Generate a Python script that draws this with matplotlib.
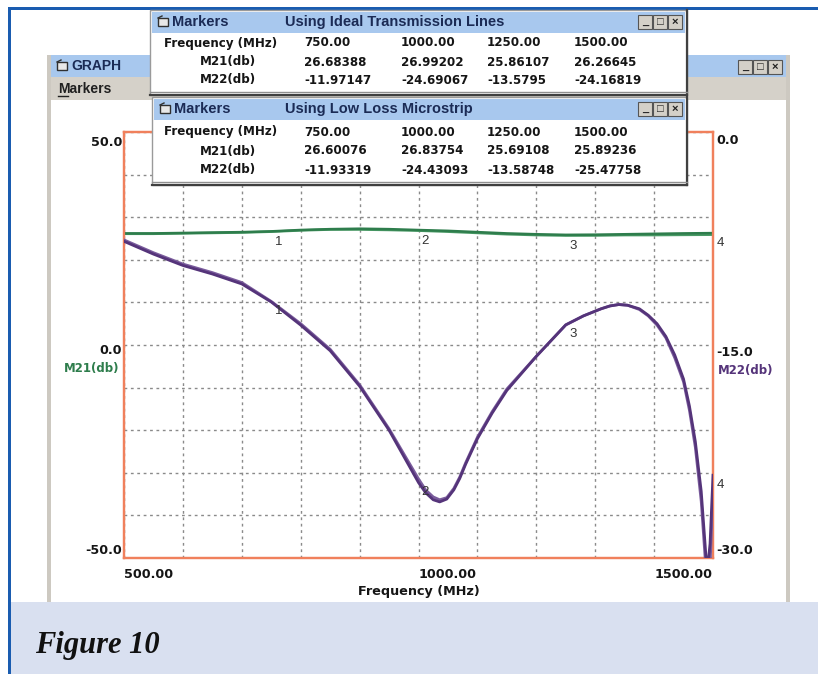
import matplotlib
matplotlib.use('Agg')
import matplotlib.pyplot as plt
from matplotlib.patches import Rectangle
import numpy as np

W, H, DPI = 818, 674, 100

# ---------------- data ----------------
freq_m21 = [500, 550, 600, 650, 700, 750, 800, 850, 900, 950, 1000, 1050, 1100,
            1150, 1200, 1250, 1300, 1350, 1400, 1450, 1500]
m21_ideal = [26.2, 26.2, 26.3, 26.4, 26.5, 26.68, 27.0, 27.2, 27.3, 27.2, 26.99, 26.8,
             26.5, 26.2, 26.0, 25.86, 25.9, 26.0, 26.1, 26.2, 26.27]
m21_micro = [26.1, 26.1, 26.2, 26.3, 26.4, 26.60, 26.9, 27.1, 27.1, 27.0, 26.84, 26.6,
             26.3, 26.0, 25.8, 25.69, 25.7, 25.8, 25.8, 25.85, 25.89]

freq_m22 = [500, 550, 600, 650, 700, 750, 800, 850, 900, 950, 1000, 1012, 1025, 1036,
            1048, 1060, 1070, 1080, 1100, 1125, 1150, 1200, 1250, 1280, 1310, 1325,
            1340, 1355, 1375, 1390, 1405, 1420, 1435, 1450, 1460, 1470, 1480, 1490,
            1495, 1500]
m22_ideal = [-7.7, -8.6, -9.4, -10.0, -10.7, -11.97, -13.6, -15.4, -17.9, -21.0, -24.69,
             -25.4, -25.9, -26.05, -25.85, -25.2, -24.4, -23.4, -21.6, -19.8, -18.2, -15.8,
             -13.58, -12.95, -12.45, -12.25, -12.15, -12.2, -12.45, -12.9, -13.5, -14.4,
             -15.7, -17.4, -19.3, -21.8, -25.3, -31.0, -29.0, -24.17]
m22_micro = [-7.6, -8.5, -9.3, -9.9, -10.6, -11.93, -13.5, -15.3, -17.8, -20.9, -24.43,
             -25.2, -25.7, -25.9, -25.75, -25.1, -24.3, -23.3, -21.5, -19.7, -18.1, -15.8,
             -13.59, -12.95, -12.45, -12.25, -12.15, -12.2, -12.5, -12.95, -13.6, -14.5,
             -15.9, -17.6, -19.6, -22.2, -26.0, -32.0, -30.5, -25.48]

marker_freqs = [750.00, 1000.00, 1250.00, 1500.00]
marker_ids = ['1', '2', '3', '4']
ideal_m21 = [26.68388, 26.99202, 25.86107, 26.26645]
ideal_m22 = [-11.97147, -24.69067, -13.5795, -24.16819]
micro_m21 = [26.60076, 26.83754, 25.69108, 25.89236]
micro_m22 = [-11.93319, -24.43093, -13.58748, -25.47758]

x_ticks = [500, 1000, 1500]
x_tick_labels = ['500.00', '1000.00', '1500.00']
left_ticks = [50, 0, -50]
left_tick_labels = ['50.0', '0.0', '-50.0']
right_ticks = [0, -15, -30]
right_tick_labels = ['0.0', '-15.0', '-30.0']

# ---------------- style ----------------
BLUE = '#1a5cb0'
CAPTION = '#d9e0f0'
TITLEBAR = '#a8c8ee'
MENU = '#d5d1c9'
WINGREY = '#cdc9c1'
ORANGE = '#f0805c'
GREEN = '#2e7d4c'
GREEN2 = '#4a9a66'
PURPLE = '#55347a'
PURPLE2 = '#7a5c9c'
NAVY = '#1b2b55'
TXT = '#151515'
SANS = ['Liberation Sans', 'DejaVu Sans']
BOLDSANS = ['DejaVu Sans']

fig = plt.figure(figsize=(W / DPI, H / DPI), dpi=DPI)
fig.patch.set_facecolor('white')

# background (pixel coordinates)
bg = fig.add_axes([0, 0, 1, 1], zorder=0)
bg.set_xlim(0, W)
bg.set_ylim(H, 0)
bg.axis('off')

def rect(a, x, y, w, h, fc, ec='none', lw=0, z=1):
    a.add_patch(Rectangle((x, y), w, h, facecolor=fc, edgecolor=ec, linewidth=lw, zorder=z))

rect(bg, 8, 7, W - 8, 3, BLUE)
rect(bg, 8, 7, 3, H - 7, BLUE)
# graph window
rect(bg, 47, 55, 743, 547, 'white')
rect(bg, 47, 55, 4, 547, WINGREY)
rect(bg, 786, 55, 4, 547, WINGREY)
rect(bg, 51, 55, 735, 22, TITLEBAR)
rect(bg, 51, 77, 735, 23, MENU)

def folder_icon(a, x, y, z=3):
    a.add_patch(Rectangle((x, y - 4), 10, 8, facecolor='#e8e8e8', edgecolor='#303030', linewidth=1.0, zorder=z))
    a.plot([x, x + 4], [y - 4, y - 6], color='#303030', lw=1.0, zorder=z)

def buttons(a, xr, yc, z=3):
    for i, sym in enumerate(['_', '\u25A1', '\u00D7']):
        bx = xr - 15 * (3 - i)
        a.add_patch(Rectangle((bx, yc - 7), 14, 14, facecolor='#d4d0c8', edgecolor='#555555',
                              linewidth=0.8, zorder=z))
        a.text(bx + 7, yc, sym, ha='center', va='center', fontsize=8, fontweight='bold',
               color='#202020', zorder=z + 1, family=SANS)

folder_icon(bg, 57, 66)
bg.text(71, 66, 'GRAPH', ha='left', va='center', fontsize=10, fontweight='bold', color=NAVY, family=SANS)
buttons(bg, 783, 67)
bg.text(58, 89, 'Markers', ha='left', va='center', fontsize=10, fontweight='bold', color='#202020', family=SANS)
bg.plot([58, 68], [96, 96], color='#202020', lw=1)

# caption band
rect(bg, 11, 602, W - 11, H - 602, CAPTION, z=2)
bg.text(35, 653, 'Figure 10', ha='left', va='baseline', fontsize=22, fontweight='bold',
        style='italic', family=['Liberation Serif', 'DejaVu Serif'], color='#111111', zorder=3)

# ---------------- plot ----------------
L, R, T, B = 124, 713, 132, 558
ax = fig.add_axes([L / W, (H - B) / H, (R - L) / W, (B - T) / H], zorder=2)
ax.set_facecolor('white')
ax.set_xlim(500, 1500)
ax.set_ylim(-50, 50)
ax.set_xticks(np.arange(500, 1501, 100))
ax.set_yticks(np.linspace(-50, 50, 11))
ax.tick_params(length=0, labelbottom=False, labelleft=False)
ax.grid(True, color='#8a8a8a', linestyle=(0, (2, 2.6)), linewidth=1.0)
for s in ax.spines.values():
    s.set_color(ORANGE)
    s.set_linewidth(1.6)

ax.plot(freq_m21, m21_micro, color=GREEN2, lw=1.8, zorder=3)
ax.plot(freq_m21, m21_ideal, color=GREEN, lw=1.8, zorder=3)

ax2 = ax.twinx()
ax2.set_zorder(3)
ax2.patch.set_visible(False)
ax2.set_ylim(-30, 0)
ax2.set_yticks([])
for s in ax2.spines.values():
    s.set_color(ORANGE)
    s.set_linewidth(1.6)
ax2.plot(freq_m22, m22_micro, color=PURPLE2, lw=2.0, zorder=3)
ax2.plot(freq_m22, m22_ideal, color=PURPLE, lw=2.0, zorder=3)

# marker numbers
for f, v, mid in zip(marker_freqs, ideal_m21, marker_ids):
    if f == marker_freqs[-1]:
        ax.annotate(mid, (f, v), xytext=(4, -10), textcoords='offset pixels', ha='left',
                    va='center', fontsize=9.5, color='#333333', annotation_clip=False, family=SANS)
    else:
        ax.annotate(mid, (f, v), xytext=(7, -11), textcoords='offset pixels', ha='center',
                    va='center', fontsize=9.5, color='#333333', family=SANS)
for f, v, mid in zip(marker_freqs, ideal_m22, marker_ids):
    if f == marker_freqs[-1]:
        ax2.annotate(mid, (f, v), xytext=(4, -10), textcoords='offset pixels', ha='left',
                     va='center', fontsize=9.5, color='#333333', annotation_clip=False, family=SANS)
    else:
        ax2.annotate(mid, (f, v), xytext=(7, -9), textcoords='offset pixels', ha='center',
                     va='center', fontsize=9.5, color='#333333', family=SANS)

# tick labels
lab_kw = dict(fontsize=9.2, fontweight='bold', color=TXT, family=BOLDSANS, annotation_clip=False)
for t, s in zip(x_ticks, x_tick_labels):
    ha = 'right' if t == x_ticks[-1] else 'left'
    ax.annotate(s, (t, 0), xycoords=('data', 'axes fraction'), xytext=(0, -17),
                textcoords='offset pixels', ha=ha, va='center', **lab_kw)
ax.annotate('Frequency (MHz)', (0.5, 0), xycoords='axes fraction', xytext=(0, -34),
            textcoords='offset pixels', ha='center', va='center', **lab_kw)
for t, s in zip(left_ticks, left_tick_labels):
    dy = {50: -10, 0: -5, -50: 8}[t]
    ax.annotate(s, (0, t), xycoords=('axes fraction', 'data'), xytext=(-2, dy),
                textcoords='offset pixels', ha='right', va='center', **lab_kw)
ax.annotate('M21(db)', (0, 0), xycoords=('axes fraction', 'data'), xytext=(-5, -23),
            textcoords='offset pixels', ha='right', va='center', fontsize=8.5, fontweight='bold',
            color=GREEN, family=BOLDSANS, annotation_clip=False)
for t, s in zip(right_ticks, right_tick_labels):
    dy = {0: -8, -15: -7, -30: 8}[t]
    ax2.annotate(s, (1, t), xycoords=('axes fraction', 'data'), xytext=(3, dy),
                 textcoords='offset pixels', ha='left', va='center', **lab_kw)
ax2.annotate('M22(db)', (1, -15), xycoords=('axes fraction', 'data'), xytext=(5, -25),
             textcoords='offset pixels', ha='left', va='center', fontsize=8.5, fontweight='bold',
             color=PURPLE, family=BOLDSANS, annotation_clip=False)

# ---------------- marker windows (overlay) ----------------
ov = fig.add_axes([0, 0, 1, 1], zorder=10)
ov.set_xlim(0, W)
ov.set_ylim(H, 0)
ov.axis('off')
ov.patch.set_visible(False)

col_x = [304, 401, 487, 574]

def marker_window(x0, y0, w, h, title, m21, m22, rows_y):
    rect(ov, x0, y0, w, h, 'white', ec='#9a9a9a', lw=1.0, z=2)
    rect(ov, x0 + 2, y0 + 2, w - 4, 21, TITLEBAR, z=3)
    ov.plot([x0 + w, x0 + w], [y0, y0 + h], color='#404040', lw=1.6, zorder=4)
    ov.plot([x0, x0 + w], [y0 + h, y0 + h], color='#404040', lw=1.6, zorder=4)
    ov.plot([x0, x0 + w], [y0 + h - 3, y0 + h - 3], color='#909090', lw=1.0, zorder=4)
    folder_icon(ov, x0 + 8, y0 + 12, z=5)
    ov.text(x0 + 22, y0 + 12, 'Markers', ha='left', va='center', fontsize=10.5,
            fontweight='bold', color=NAVY, family=SANS, zorder=5)
    ov.text(285, y0 + 12, title, ha='left', va='center', fontsize=10.5,
            fontweight='bold', color=NAVY, family=SANS, zorder=5)
    buttons(ov, x0 + w - 4, y0 + 12, z=5)
    kw = dict(va='center', fontsize=8.6, fontweight='bold', color=TXT, family=BOLDSANS, zorder=5)
    ov.text(164, rows_y[0], 'Frequency (MHz)', ha='left', **kw)
    ov.text(228, rows_y[1], 'M21(db)', ha='center', **kw)
    ov.text(228, rows_y[2], 'M22(db)', ha='center', **kw)
    for cx, f, a, b in zip(col_x, marker_freqs, m21, m22):
        ov.text(cx, rows_y[0], f'{f:.2f}', ha='left', **kw)
        ov.text(cx, rows_y[1], str(a), ha='left', **kw)
        ov.text(cx, rows_y[2], str(b), ha='left', **kw)

marker_window(150, 10, 537, 85, 'Using Ideal Transmission Lines', ideal_m21, ideal_m22, [43, 62, 80])
marker_window(152, 97, 535, 88, 'Using Low Loss Microstrip', micro_m21, micro_m22, [132, 151, 170])

fig.savefig('out.png', dpi=DPI)
